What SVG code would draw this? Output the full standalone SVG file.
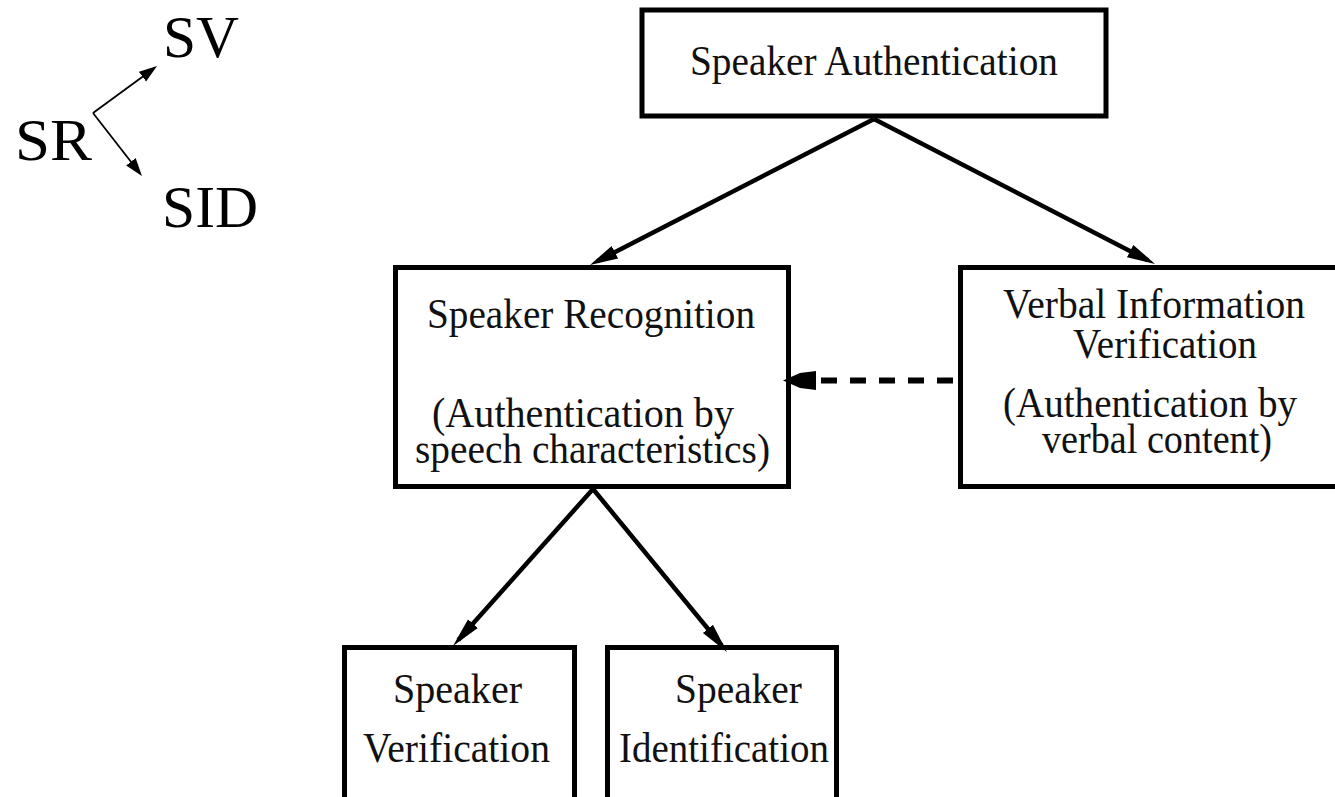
<svg xmlns="http://www.w3.org/2000/svg" width="1335" height="797" viewBox="0 0 1335 797">
  <style>
    .box { fill: #ffffff; stroke: #000000; stroke-width: 5; }
    .lbl { font-family: "Liberation Serif", "Times New Roman", serif; font-size: 43px; fill: #111111; }
    .big { font-family: "Liberation Serif", "Times New Roman", serif; font-size: 60px; fill: #000000; }
    .edge { stroke: #000000; stroke-width: 4.5; fill: none; }
    .thin { stroke: #000000; stroke-width: 1.8; fill: none; }
    .dash { stroke: #000000; stroke-width: 6; fill: none; stroke-dasharray: 16 13; }
  </style>
  <defs>
    <marker id="head" markerUnits="userSpaceOnUse" markerWidth="30" markerHeight="18" refX="20" refY="9" orient="auto">
      <path d="M0,2 L28,9 L0,16 z" fill="#000000"/>
    </marker>
    <marker id="headLong" markerUnits="userSpaceOnUse" markerWidth="32" markerHeight="16" refX="22" refY="8" orient="auto">
      <path d="M0,1.5 L30,8 L0,14.5 z" fill="#000000"/>
    </marker>
    <marker id="headSmall" markerUnits="userSpaceOnUse" markerWidth="20" markerHeight="14" refX="14" refY="7" orient="auto">
      <path d="M0,1 L18,7 L0,13 z" fill="#000000"/>
    </marker>
    <marker id="headDash" markerUnits="userSpaceOnUse" markerWidth="36" markerHeight="22" refX="0" refY="11" orient="auto">
      <path d="M0,2 L16,2 L16,1 L34,11 L16,21 L16,20 L0,20 z" fill="#000000"/>
    </marker>
  </defs>

  <rect width="1335" height="797" fill="#ffffff"/>

  <!-- shorthand: SR splits into SV and SID -->
  <g id="legend">
    <text class="big" x="15" y="160" textLength="77" lengthAdjust="spacingAndGlyphs">SR</text>
    <text class="big" x="163" y="57" textLength="76" lengthAdjust="spacingAndGlyphs">SV</text>
    <text class="big" x="162" y="227" textLength="96" lengthAdjust="spacingAndGlyphs">SID</text>
    <line class="thin" x1="93" y1="113" x2="153.8" y2="68.4" marker-end="url(#headSmall)"/>
    <line class="thin" x1="93" y1="113" x2="139.5" y2="172.8" marker-end="url(#headSmall)"/>
  </g>

  <g id="speaker-authentication">
    <rect class="box" x="642" y="10" width="464" height="106"/>
    <text class="lbl" x="690" y="75" textLength="368" lengthAdjust="spacingAndGlyphs">Speaker Authentication</text>
  </g>

  <g id="speaker-recognition">
    <rect class="box" x="395.5" y="267.5" width="393" height="219"/>
    <text class="lbl" x="427" y="328" textLength="328" lengthAdjust="spacingAndGlyphs">Speaker Recognition</text>
    <text class="lbl" x="432" y="427" textLength="302" lengthAdjust="spacingAndGlyphs">(Authentication by</text>
    <text class="lbl" x="415" y="463" textLength="355" lengthAdjust="spacingAndGlyphs">speech characteristics)</text>
  </g>

  <g id="verbal-information-verification">
    <rect class="box" x="960.5" y="267.5" width="420" height="219"/>
    <text class="lbl" x="1003" y="318" textLength="302" lengthAdjust="spacingAndGlyphs">Verbal Information</text>
    <text class="lbl" x="1073" y="358" textLength="184" lengthAdjust="spacingAndGlyphs">Verification</text>
    <text class="lbl" x="1003" y="417" textLength="294" lengthAdjust="spacingAndGlyphs">(Authentication by</text>
    <text class="lbl" x="1042" y="453" textLength="230" lengthAdjust="spacingAndGlyphs">verbal content)</text>
  </g>

  <g id="speaker-verification">
    <rect class="box" x="344.5" y="647.5" width="230" height="200"/>
    <text class="lbl" x="393" y="703" textLength="129" lengthAdjust="spacingAndGlyphs">Speaker</text>
    <text class="lbl" x="363" y="762" textLength="187" lengthAdjust="spacingAndGlyphs">Verification</text>
  </g>

  <g id="speaker-identification">
    <rect class="box" x="607.5" y="647.5" width="229" height="200"/>
    <text class="lbl" x="675" y="703" textLength="127" lengthAdjust="spacingAndGlyphs">Speaker</text>
    <text class="lbl" x="619" y="762" textLength="210" lengthAdjust="spacingAndGlyphs">Identification</text>
  </g>

  <g id="connectors">
    <line class="edge" x1="874" y1="119" x2="597.1" y2="261.3" marker-end="url(#head)"/>
    <line class="edge" x1="874" y1="119" x2="1147.9" y2="260.3" marker-end="url(#head)"/>
    <line class="edge" x1="593" y1="489" x2="458.3" y2="640" marker-end="url(#headLong)"/>
    <line class="edge" x1="593" y1="489" x2="721.9" y2="645.8" marker-end="url(#headLong)"/>
    <line class="dash" x1="953" y1="380.5" x2="817" y2="380.5"/>
    <polygon points="783,380.5 800,373 816,371 816,390 800,388" fill="#000000"/>
  </g>
</svg>
